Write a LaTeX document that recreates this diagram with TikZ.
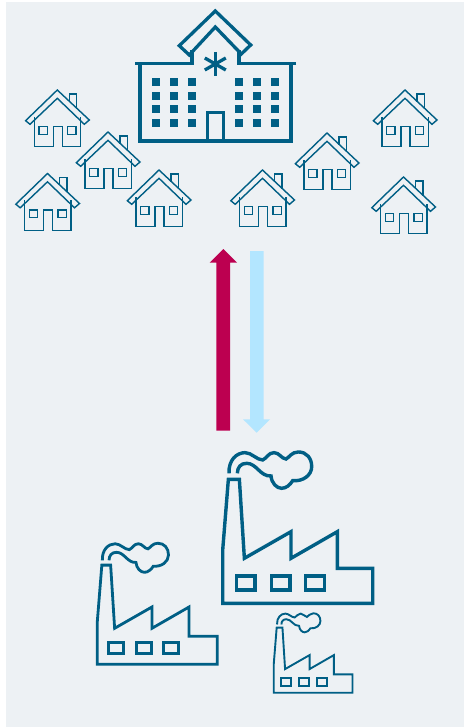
\documentclass[tikz,border=0pt]{standalone}
\definecolor{bgc}{HTML}{EDF1F4}
\definecolor{ink}{HTML}{005F85}
\definecolor{upc}{HTML}{BC0050}
\definecolor{downc}{HTML}{B3E6FF}
\tikzset{
  housepen/.style={draw=ink,line width=1.4pt,line join=miter,fill=none},
  hospen/.style={draw=ink,line width=3.3pt,line join=miter,fill=none},
  winfill/.style={fill=ink,draw=none},
  factorypen/.style={draw=ink,line join=miter,fill=none}
}
\newcommand{\myhouse}[2]{%
  \begin{scope}[shift={(#1,#2)}]
    \draw[housepen] (0,0) -- (-31.7,30.7) -- (-27.3,34.3) -- (0,8.3) -- (27,34.3) -- (32,30) -- cycle;
    \draw[housepen] (12,12) -- (12,4) -- (19.3,4) -- (19.3,19);
    \draw[housepen] (-23,27) -- (-23,56.7) -- (-4,56.7) -- (-4,36.7) -- (5,36.7) -- (5,56.7) -- (23.3,56.7) -- (23.3,27);
    \draw[housepen] (-18.3,36.7) rectangle (-10,44.3);
    \draw[housepen] (10.3,36.7) rectangle (18.7,44.3);
  \end{scope}}
\newcommand{\myfactory}[4]{%
  \begin{scope}[shift={(#1,#2)},scale=#3/3,shift={(-38,-490)},factorypen,line width=#4]
    \draw (38,490) -- (38,330) -- (55,118) -- (88,118) -- (103,355) -- (243,275) -- (243,355) -- (382,275) -- (382,385) -- (488,385) -- (488,490) -- cycle;
    \draw (80,408) rectangle (135,450);
    \draw (184,408) rectangle (240,450);
    \draw (287,408) rectangle (343,450);
    \draw (57,100) .. controls (55,60) and (80,38) .. (105,38)
      .. controls (125,38) and (140,60) .. (158,60)
      .. controls (170,55) and (175,38) .. (192,38)
      .. controls (208,38) and (215,57) .. (228,57)
      .. controls (238,52) and (245,36) .. (265,36)
      .. controls (290,36) and (305,55) .. (305,80)
      .. controls (305,105) and (280,125) .. (248,122)
      .. controls (240,135) and (228,145) .. (215,145)
      .. controls (200,145) and (185,130) .. (183,108)
      .. controls (150,110) and (140,70) .. (110,70)
      .. controls (92,70) and (82,82) .. (82,100);
  \end{scope}}
\begin{document}
\begin{tikzpicture}[x=1pt,y=-1pt]
  \useasboundingbox (0,0) rectangle (464,727);
  \fill[bgc] (6,2) rectangle (464,727);
  % hospital
  \draw[hospen] (215.3,11) -- (179.3,45.7) -- (189.3,55) -- (215.3,27) -- (241.3,54) -- (250.7,45) -- cycle;
  \draw[hospen] (135,63.7) -- (192,63.7) -- (192,50);
  \draw[hospen] (296,63.7) -- (239,63.7) -- (239,50);
  \draw[hospen] (140,63.7) -- (140,141) -- (291,141) -- (291,63.7);
  \draw[hospen] (207.3,141) -- (207.3,112.7) -- (223.7,112.7) -- (223.7,141);
  \foreach \cx in {156,174,192,239,257,275}
    \foreach \cy in {82,96,109,123}
      \fill[winfill] (\cx-4,\cy-4) rectangle (\cx+4,\cy+4);
  \draw[hospen] (215.3,52) -- (215.3,76);
  \draw[hospen] (204.8,58) -- (225.8,70);
  \draw[hospen] (204.8,70) -- (225.8,58);
  % houses
  \myhouse{57.3}{90}
  \myhouse{108}{132}
  \myhouse{47.5}{173.5}
  \myhouse{159}{170}
  \myhouse{262.5}{170}
  \myhouse{327}{133}
  \myhouse{405}{90}
  \myhouse{403.5}{177}
  % arrows
  \fill[upc] (216.3,430.7) -- (216.3,262.7) -- (209.7,262.7) -- (223.3,249) -- (237,262.7) -- (230,262.7) -- (230,430.7) -- cycle;
  \fill[downc] (250,251) -- (263.7,251) -- (263.7,419.3) -- (270,419.3) -- (256.7,432.7) -- (243,419.3) -- (250,419.3) -- cycle;
  % factories
  \myfactory{222.7}{603.3}{1}{3.4pt}
  \myfactory{97.3}{664.3}{.8}{2.8pt}
  \myfactory{273.7}{692.7}{.525}{1.9pt}
\end{tikzpicture}
\end{document}
